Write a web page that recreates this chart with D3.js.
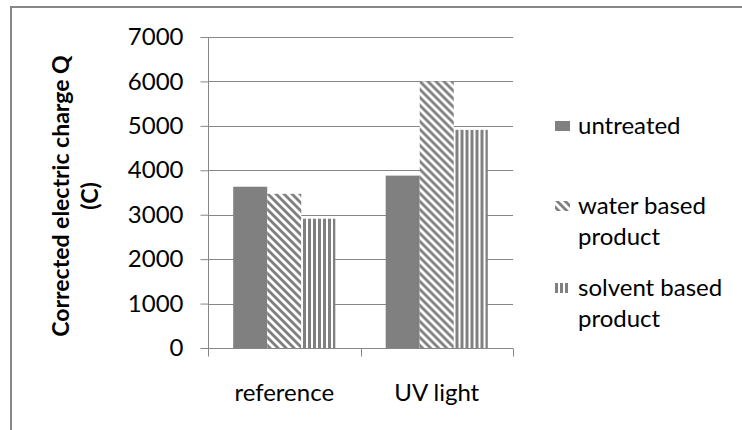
<!DOCTYPE html>
<html>
<head>
<meta charset="utf-8">
<script src="https://cdn.jsdelivr.net/npm/d3@7"></script>
<style>
  html, body { margin: 0; padding: 0; background: #fff; }
  svg { display: block; }
  text { font-family: Lato, "Open Sans", sans-serif; fill: #000; }
</style>
</head>
<body>
<svg id="chart" width="742" height="430"></svg>
<script>
// Corrected electric charge per treatment
const categories = ["reference", "UV light"];
const seriesNames = ["untreated", "water based product", "solvent based product"];
const untreated = [3630, 3880];
const waterBased = [3470, 6000];
const solventBased = [2910, 4910];
const yTicks = [0, 1000, 2000, 3000, 4000, 5000, 6000, 7000];
const yTitle = ["Corrected electric charge Q", "(C)"];
const legendLines = [["untreated"], ["water based", "product"], ["solvent based", "product"]];

const seriesValues = [untreated, waterBased, solventBased];
const rows = categories.map((c, i) => ({
  category: c,
  values: seriesNames.map((s, j) => ({ series: s, value: seriesValues[j][i] }))
}));

const grey = "#808080";
const lineGrey = "#868686";
const svg = d3.select("#chart");

// outer chart frame
svg.append("rect")
  .attr("x", 11).attr("y", 7)
  .attr("width", 760).attr("height", 440)
  .attr("fill", "none").attr("stroke", "#878787").attr("stroke-width", 2);

// fill patterns
const defs = svg.append("defs");
function diagPattern(id, ox, oy) {
  const p = defs.append("pattern").attr("id", id)
    .attr("patternUnits", "userSpaceOnUse")
    .attr("x", ox).attr("y", oy).attr("width", 8).attr("height", 8);
  p.append("rect").attr("width", 8).attr("height", 8).attr("fill", "#fff");
  p.append("path").attr("d", "M0,0L4,0L8,4L8,8Z M0,4L4,8L0,8Z").attr("fill", grey);
}
function vertPattern(id, ox) {
  const p = defs.append("pattern").attr("id", id)
    .attr("patternUnits", "userSpaceOnUse")
    .attr("x", ox).attr("y", 0).attr("width", 5).attr("height", 5);
  p.append("rect").attr("width", 5).attr("height", 5).attr("fill", "#fff");
  p.append("rect").attr("x", 0).attr("width", 3).attr("height", 5).attr("fill", grey);
}
diagPattern("diag", 0, 0);
vertPattern("vert", 0);
diagPattern("diagKey", 555, 201);
vertPattern("vertKey", 555);

const fills = {
  "untreated": grey,
  "water based product": "url(#diag)",
  "solvent based product": "url(#vert)"
};
const keyFills = {
  "untreated": grey,
  "water based product": "url(#diagKey)",
  "solvent based product": "url(#vertKey)"
};

const plot = { left: 208, right: 513, top: 37, bottom: 348 };

const y = d3.scaleLinear().domain([0, 7000]).range([plot.bottom, plot.top]);
const x0 = d3.scaleBand().domain(categories).range([plot.left, plot.right]).padding(0);
const x1 = d3.scaleBand().domain(seriesNames).range([0, x0.bandwidth()])
  .paddingInner(0).paddingOuter(0.74);

// horizontal gridlines
svg.append("g")
  .selectAll("line")
  .data(yTicks.filter(t => t > 0))
  .join("line")
  .attr("x1", plot.left).attr("x2", plot.right)
  .attr("y1", d => Math.round(y(d)) + 0.5).attr("y2", d => Math.round(y(d)) + 0.5)
  .attr("stroke", lineGrey).attr("stroke-width", 1);

// bars
svg.append("g")
  .selectAll("g")
  .data(rows)
  .join("g")
  .attr("transform", d => `translate(${x0(d.category)},0)`)
  .selectAll("rect")
  .data(d => d.values)
  .join("rect")
  .attr("x", d => x1(d.series))
  .attr("width", x1.bandwidth())
  .attr("y", d => y(d.value))
  .attr("height", d => y(0) - y(d.value))
  .attr("fill", d => fills[d.series]);

// y axis
const yAxis = svg.append("g")
  .attr("transform", `translate(${plot.left + 0.5},0)`)
  .call(d3.axisLeft(y).tickValues(yTicks).tickSize(8).tickPadding(17)
    .tickFormat(d3.format("d")));
yAxis.select(".domain").attr("stroke", lineGrey).attr("d", `M0,${plot.top}V${plot.bottom}`);
yAxis.selectAll(".tick line").attr("stroke", lineGrey);
yAxis.selectAll(".tick text")
  .attr("font-family", "Lato, sans-serif").attr("font-size", 24).attr("fill", "#000");

// x axis
const xAxis = svg.append("g")
  .attr("transform", `translate(0,${plot.bottom + 0.5})`)
  .call(d3.axisBottom(x0).tickSize(0).tickPadding(35));
xAxis.select(".domain").attr("stroke", lineGrey).attr("d", `M${plot.left},0H${plot.right}`);
xAxis.selectAll(".tick text")
  .attr("font-family", "Lato, sans-serif").attr("font-size", 24).attr("fill", "#000");
// category separator ticks
const bounds = [plot.left, ...categories.slice(1).map(c => x0(c)), plot.right];
xAxis.append("g").selectAll("line")
  .data(bounds)
  .join("line")
  .attr("x1", d => Math.round(d) + 0.5).attr("x2", d => Math.round(d) + 0.5)
  .attr("y1", 0).attr("y2", 8)
  .attr("stroke", lineGrey);

// y axis title
const title = svg.append("text")
  .attr("transform", "translate(61,196) rotate(-90)")
  .attr("text-anchor", "middle")
  .attr("font-weight", "bold")
  .attr("font-size", 23);
title.selectAll("tspan")
  .data(yTitle)
  .join("tspan")
  .attr("x", 0)
  .attr("dy", (d, i) => i === 0 ? "0.35em" : 29)
  .text(d => d);

// legend
const legendTop = [126, 206, 288];
const legend = svg.append("g");
seriesNames.forEach((s, i) => {
  legend.append("rect")
    .attr("x", 555).attr("y", legendTop[i] - 5)
    .attr("width", 15).attr("height", 10)
    .attr("fill", keyFills[s]);
  const t = legend.append("text")
    .attr("x", 578).attr("y", legendTop[i])
    .attr("font-size", 24);
  t.selectAll("tspan")
    .data(legendLines[i])
    .join("tspan")
    .attr("x", 578)
    .attr("dy", (d, k) => k === 0 ? "0.35em" : 31)
    .text(d => d);
});
</script>
</body>
</html>
